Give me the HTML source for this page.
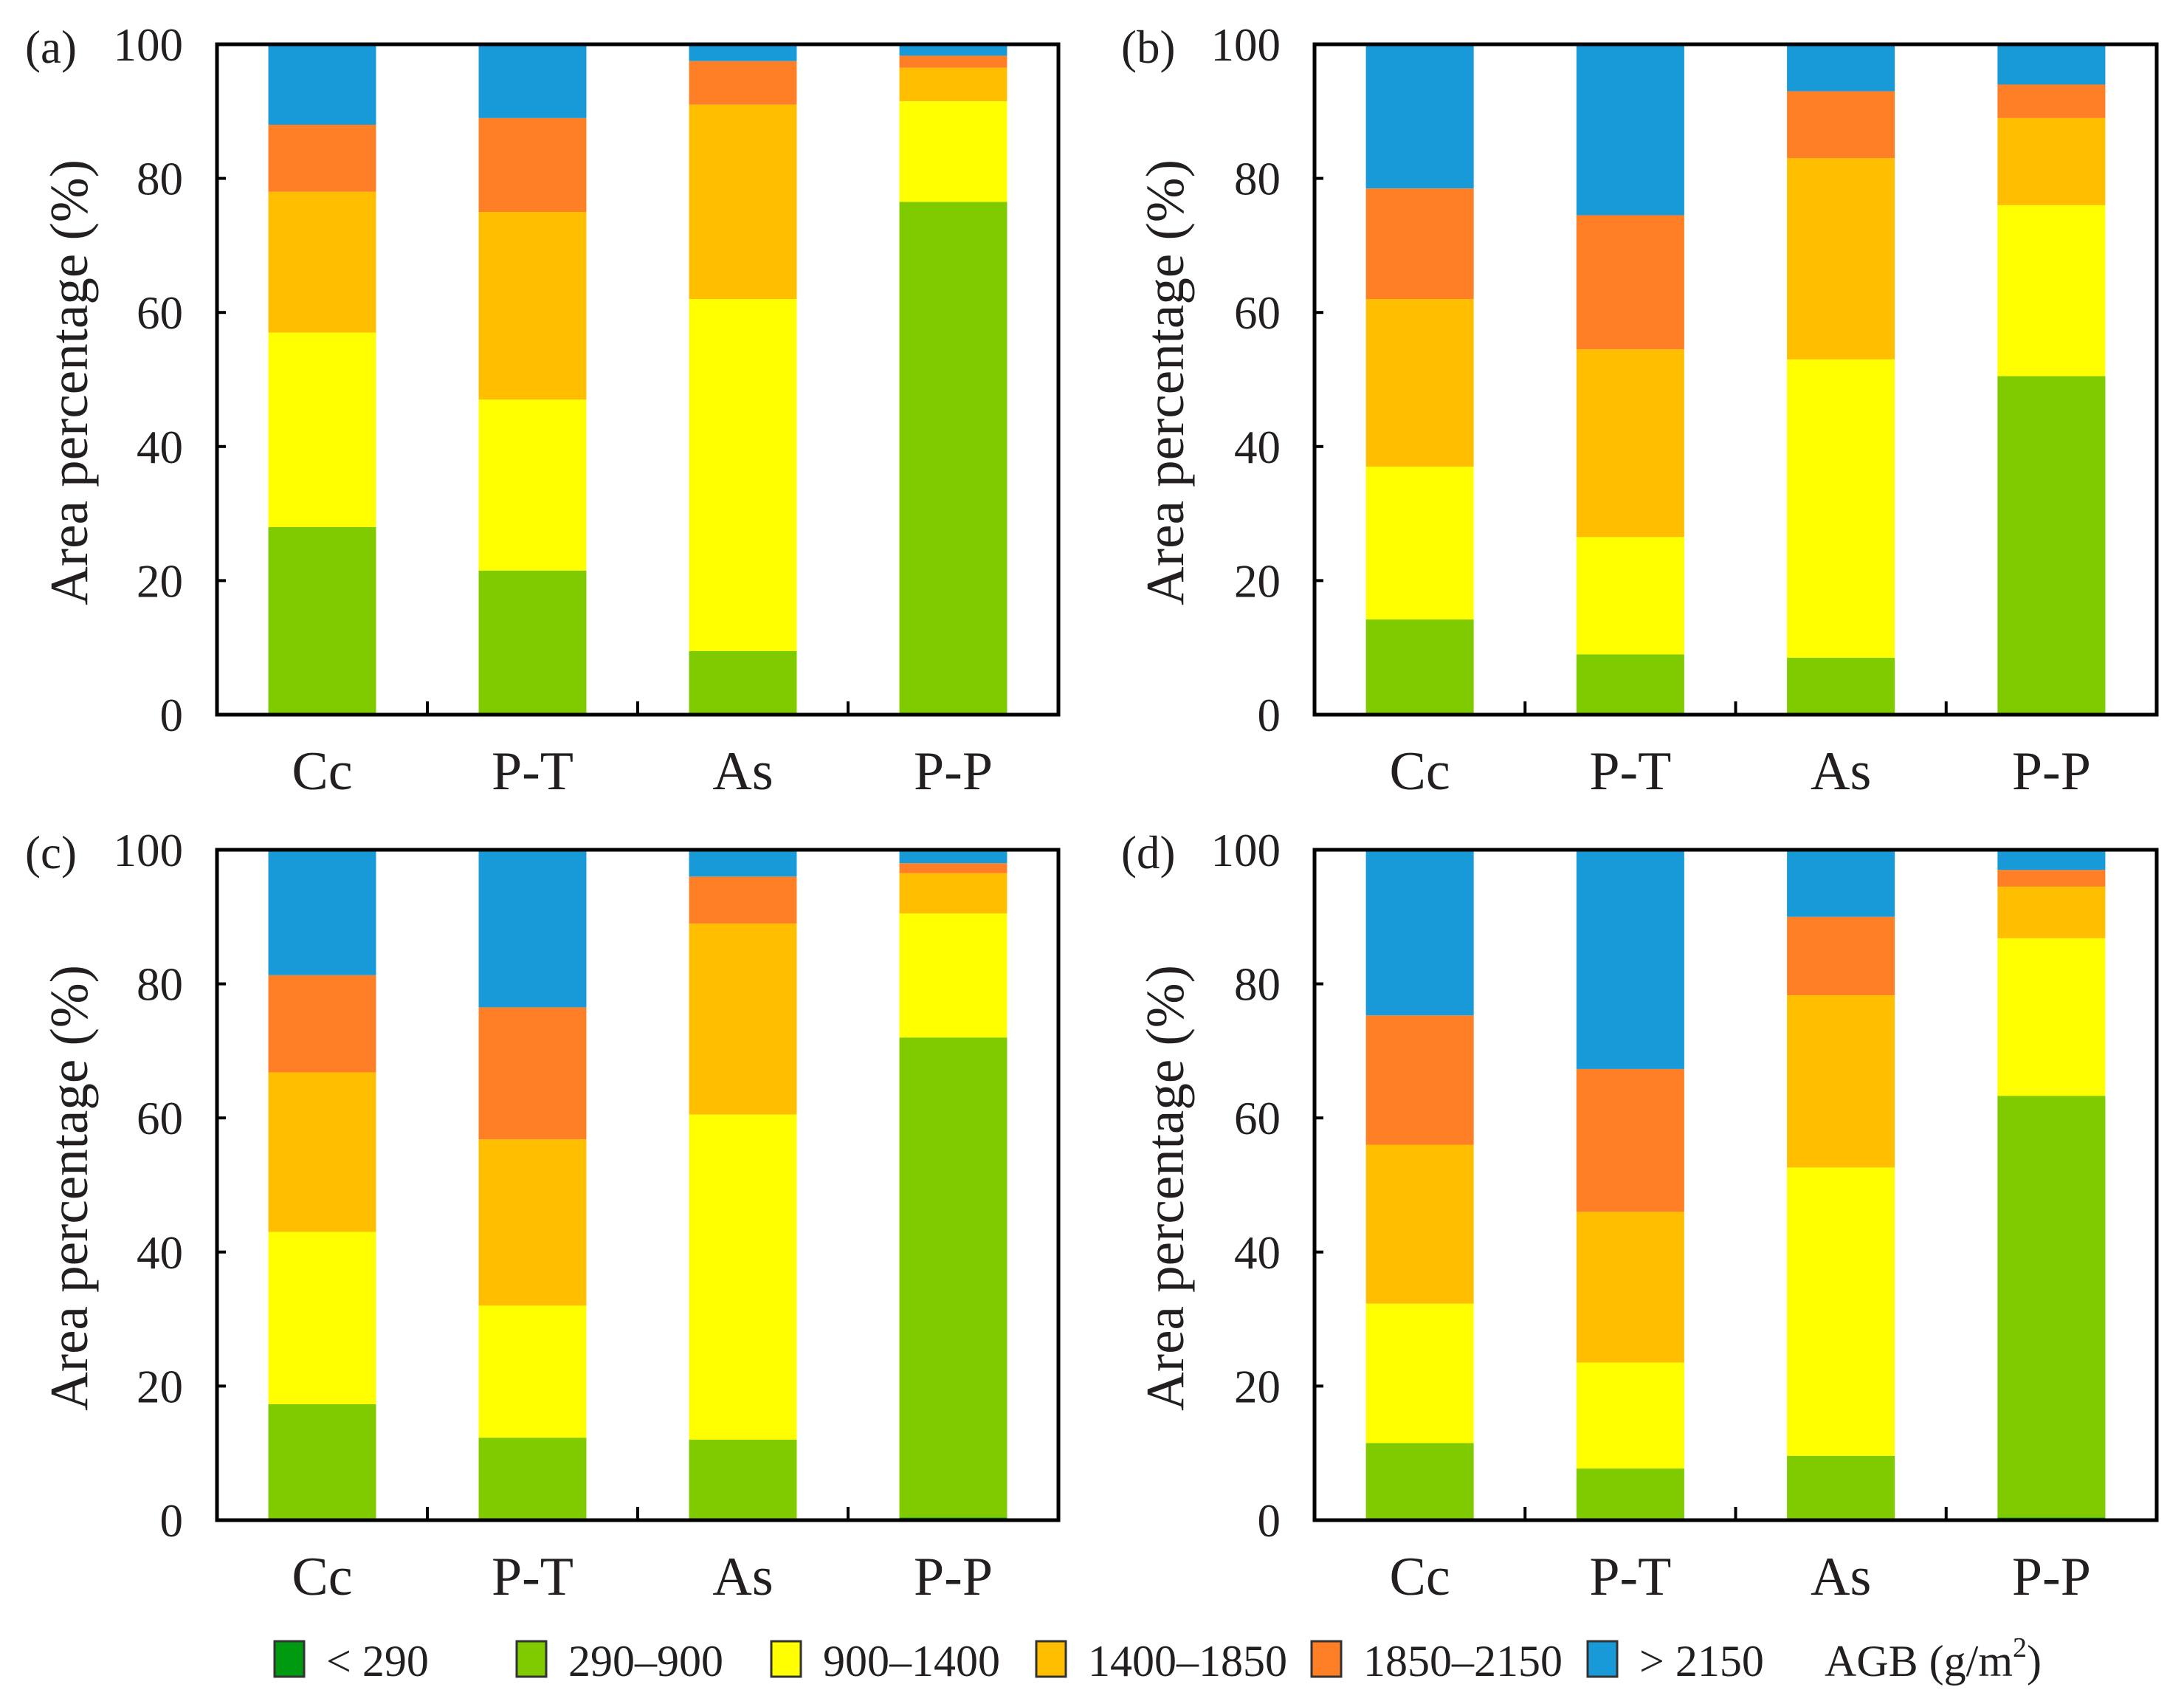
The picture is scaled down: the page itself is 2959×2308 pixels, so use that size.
<!DOCTYPE html>
<html><head><meta charset="utf-8"><style>
html,body{margin:0;padding:0;background:#fff;}
svg{display:block;}
svg text{font-family:"Liberation Serif","Times New Roman",serif;}
</style></head><body>
<svg id="fig" width="2959" height="2308" viewBox="0 0 2959 2308" xmlns="http://www.w3.org/2000/svg" font-family="Liberation Serif, serif"></svg>
<script>
const categories = ["Cc","P-T","As","P-P"];
const classNames = ["< 290","290\u2013900","900\u20131400","1400\u20131850","1850\u20132150","> 2150"];
const classColors = ["#009a11","#7fcb00","#ffff00","#ffbf00","#ff7f27","#189ad8"];
const yTicks = [0,20,40,60,80,100];
const panelLabels = ["(a)","(b)","(c)","(d)"];
// segment values (%) per class, per category
const aLt290 = [0,0,0,0];
const a290 = [28,21.5,9.5,76.5];
const a900 = [29,25.5,52.5,15];
const a1400 = [21,28,29,5];
const a1850 = [10,14,6.5,1.8];
const a2150 = [12,11,2.5,1.7];
const bLt290 = [0,0,0,0];
const b290 = [14.2,9,8.5,50.5];
const b900 = [22.8,17.5,44.5,25.5];
const b1400 = [25,28,30,13];
const b1850 = [16.5,20,10,5];
const b2150 = [21.5,25.5,7,6];
const cLt290 = [0,0,0,0.4];
const c290 = [17.3,12.3,12,71.6];
const c900 = [25.7,19.7,48.5,18.5];
const c1400 = [23.8,24.8,28.5,6];
const c1850 = [14.5,19.7,7,1.5];
const c2150 = [18.7,23.5,4,2];
const dLt290 = [0,0,0,0.4];
const d290 = [11.5,7.7,9.6,62.9];
const d900 = [20.8,15.8,43,23.5];
const d1400 = [23.7,22.5,25.7,7.7];
const d1850 = [19.3,21.3,11.7,2.5];
const d2150 = [24.7,32.7,10,3];

const panels = [
  {series:[aLt290,a290,a900,a1400,a1850,a2150], x0:294, x1:1434, y0:60, y1:968, lx:34},
  {series:[bLt290,b290,b900,b1400,b1850,b2150], x0:1781, x1:2922, y0:60, y1:968, lx:1519},
  {series:[cLt290,c290,c900,c1400,c1850,c2150], x0:294, x1:1434, y0:1151, y1:2059, lx:34},
  {series:[dLt290,d290,d900,d1400,d1850,d2150], x0:1781, x1:2922, y0:1151, y1:2059, lx:1519}
];
const NS="http://www.w3.org/2000/svg";
const svg=document.getElementById('fig');
function mk(tag,attrs,parent){const e=document.createElementNS(NS,tag);for(const k in attrs)e.setAttribute(k,attrs[k]);(parent||svg).appendChild(e);return e;}

panels.forEach((p,pi)=>{
  const g=mk('g',{});
  
  
  const slot=(p.x1-p.x0)/categories.length;
  const xC=i=>p.x0+slot*(i+0.5);
  const yS=v=>p.y1-(p.y1-p.y0)*v/100;
  const bw=slot*0.512;
  categories.forEach((c,ci)=>{
    let cum=0;
    p.series.forEach((s,si)=>{
      const v=s[ci]; if(v<=0){return;}
      const r=mk('rect',{x:xC(ci)-bw/2,y:yS(cum+v),width:bw,height:yS(cum)-yS(cum+v),fill:classColors[si]},g);
      
      
      cum+=v;
    });
    const t=mk('text',{x:xC(ci),y:p.y1+101,'font-size':74,'text-anchor':'middle',fill:'#231f20'},g);
    t.textContent=c;
    
    
  });
  const fr=mk('rect',{x:p.x0,y:p.y0,width:p.x1-p.x0,height:p.y1-p.y0,fill:'none',stroke:'#000','stroke-width':5},g);
  
  
  for(let i=1;i<categories.length;i++){
    const x=p.x0+slot*i;
    const tk=mk('line',{x1:x,x2:x,y1:p.y1,y2:p.y1-18,stroke:'#000','stroke-width':4},g);
    
    
  }
  yTicks.forEach(v=>{
    const y=yS(v);
    const tk=mk('line',{x1:p.x0,x2:p.x0+12,y1:y,y2:y,stroke:'#000','stroke-width':4},g);
    
    
    const t=mk('text',{x:p.x0-46,y:y+22,'font-size':63,'text-anchor':'end',fill:'#231f20'},g);
    t.textContent=v;
    
    
  });
  const cy=(p.y0+p.y1)/2+4;
  const yl=mk('text',{x:p.lx+84,y:cy,'font-size':73,'text-anchor':'middle',fill:'#231f20',transform:`rotate(-90 ${p.lx+84} ${cy})`},g);
  yl.textContent='Area percentage (%)';
  
  
  const pl=mk('text',{x:p.lx,y:p.y0+25,'font-size':63,fill:'#231f20'},g);
  pl.textContent=panelLabels[pi];
  
  
});

const legX=[372,700,1045,1404,1777,2151];
const lg=mk('g',{});


classNames.forEach((n,i)=>{
  const r=mk('rect',{x:legX[i],y:2223,width:40,height:48,fill:classColors[i],stroke:'#333','stroke-width':3},lg);
  
  
  const t=mk('text',{x:legX[i]+70,y:2270,'font-size':60,fill:'#231f20'},lg);
  t.textContent=n;
  
  
});
const agb=mk('text',{x:2472,y:2270,'font-size':60,fill:'#231f20'},lg);
agb.innerHTML='AGB (g/m<tspan dy="-26" font-size="38">2</tspan><tspan dy="26">)</tspan>';


</script>
</body></html>
